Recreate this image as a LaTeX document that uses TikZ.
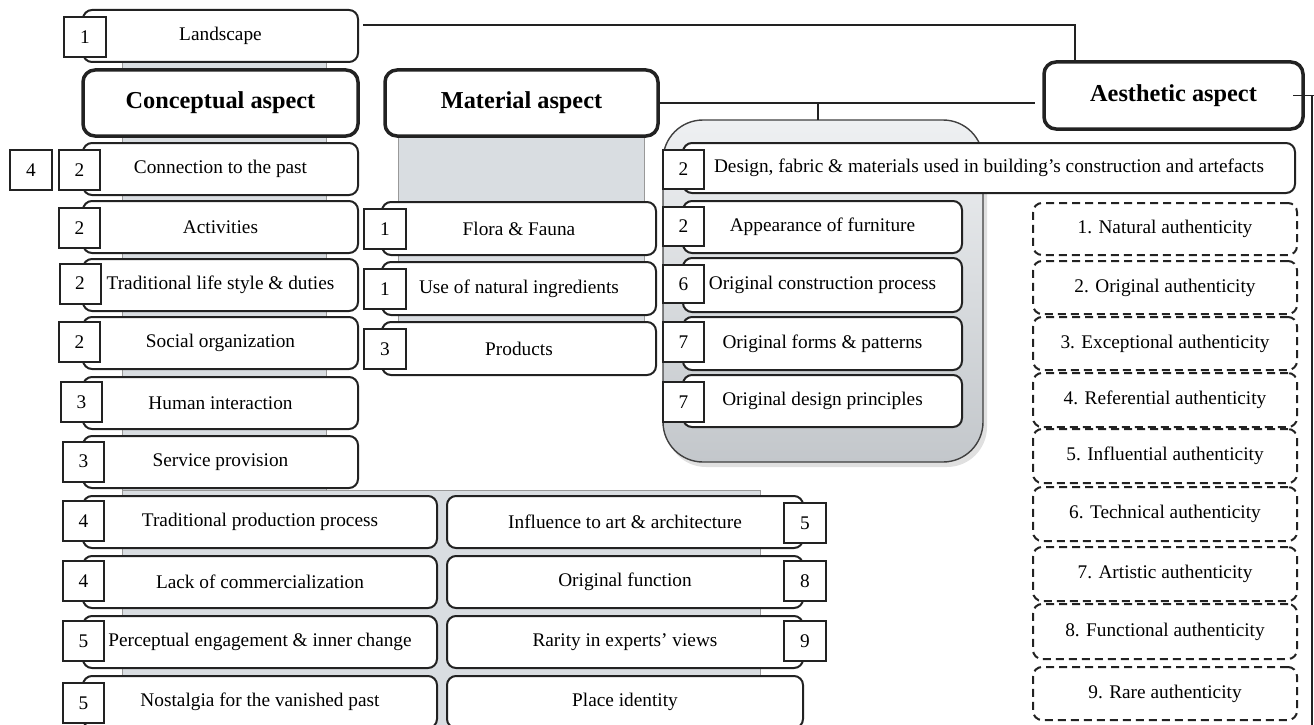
\documentclass[tikz,border=0pt]{standalone}
\usepackage{fontspec}
\setmainfont{Liberation Serif}
\usetikzlibrary{calc}
\definecolor{panel}{HTML}{D9DDE1}
\definecolor{paneltop}{HTML}{EEF0F2}
\definecolor{panelbot}{HTML}{C3C7CB}
\definecolor{ink}{HTML}{222222}
\begin{document}
\begin{tikzpicture}[x=1pt,y=-1pt,
  every node/.style={inner sep=0pt,outer sep=0pt},
  item/.style={draw=ink,line width=2pt,fill=white,rounded corners=9pt,minimum height=52pt,font=\fontsize{19.3}{22}\selectfont},
  aspect/.style={draw=ink,line width=3.5pt,fill=white,rounded corners=12pt,minimum height=66pt,font=\bfseries\fontsize{24.3}{28}\selectfont},
  numbox/.style={draw=ink,line width=2pt,fill=white,minimum width=42pt,minimum height=40pt,font=\fontsize{19.3}{22}\selectfont},
  authbox/.style={draw=ink,line width=2pt,dash pattern=on 8pt off 5pt,fill=white,rounded corners=9pt,minimum width=264pt,font=\fontsize{19.3}{22}\selectfont},
  conn/.style={draw=ink,line width=1.6pt},
  backdrop/.style={fill=panel,draw=black!40,line width=0.8pt}
]
\useasboundingbox (0,0) rectangle (1314,725);
\clip (0,0) rectangle (1314,725);

% grey backdrops behind the columns
\path[backdrop] (122,55) rectangle (326,500);
\path[backdrop] (122,490) rectangle (760,735);
\path[backdrop] (398,130) rectangle (644,370);
\fill[black!12,rounded corners=40pt] (666,125) rectangle (987,467);
\node[draw=black!75,line width=1.4pt,rounded corners=40pt,top color=paneltop,bottom color=panelbot,
      minimum width=320pt,minimum height=342pt] (frame) at (823,291) {};

% conceptual column
\node[item,minimum width=275pt] (land) at (220.5,36) {Landscape};
\node[aspect,minimum width=275pt] (concept) at (220.5,103) {Conceptual aspect};
\node[item,minimum width=275pt] (past) at (220.5,169) {Connection to the past};
\node[item,minimum width=275pt] (activ) at (220.5,227) {Activities};
\node[item,minimum width=275pt] (trad) at (220.5,285) {Traditional life style \& duties};
\node[item,minimum width=275pt] (social) at (220.5,343) {Social organization};
\node[item,minimum width=275pt] (human) at (220.5,403) {Human interaction};
\node[item,minimum width=275pt] (service) at (220.5,462) {Service provision};

% lower rows
\node[item,minimum width=354pt] (prod) at (260,522) {Traditional production process};
\node[item,minimum width=354pt] (commerce) at (260,582) {Lack of commercialization};
\node[item,minimum width=354pt] (percept) at (260,642) {Perceptual engagement \& inner change};
\node[item,minimum width=354pt] (nostalgia) at (260,702) {Nostalgia for the vanished past};
\node[item,minimum width=356pt] (influence) at (625,522) {Influence to art \& architecture};
\node[item,minimum width=356pt] (function) at (625,582) {Original function};
\node[item,minimum width=356pt] (rarity) at (625,642) {Rarity in experts’ views};
\node[item,minimum width=356pt] (place) at (625,702) {Place identity};

% material column
\node[aspect,minimum width=273pt] (mat) at (521.5,103) {Material aspect};
\node[item,minimum width=274pt,minimum height=53pt] (flora) at (519,228.5) {Flora \& Fauna};
\node[item,minimum width=274pt,minimum height=53pt] (natural) at (519,288.5) {Use of natural ingredients};
\node[item,minimum width=274pt,minimum height=53pt] (products) at (519,348.5) {Products};

% aesthetic group
\node[aspect,minimum width=259pt,minimum height=67pt] (aes) at (1173.5,95.5) {Aesthetic aspect};
\node[item,minimum width=612pt,minimum height=50pt] (design) at (989,168) {Design, fabric \& materials used in building’s construction and artefacts};
\node[item,minimum width=279pt] (appear) at (822.5,227) {Appearance of furniture};
\node[item,minimum width=279pt,minimum height=54pt] (constr) at (822.5,285) {Original construction process};
\node[item,minimum width=279pt,minimum height=53pt] (forms) at (822.5,343.5) {Original forms \& patterns};
\node[item,minimum width=279pt] (princ) at (822.5,401) {Original design principles};

% authenticity types
\node[authbox,minimum height=52pt] (a1) at (1165,229) {1. Natural authenticity};
\node[authbox,minimum height=53pt] (a2) at (1165,287.5) {2. Original authenticity};
\node[authbox,minimum height=53pt] (a3) at (1165,343.5) {3. Exceptional authenticity};
\node[authbox,minimum height=54pt] (a4) at (1165,400) {4. Referential authenticity};
\node[authbox,minimum height=54pt] (a5) at (1165,456) {5. Influential authenticity};
\node[authbox,minimum height=54pt] (a6) at (1165,514) {6. Technical authenticity};
\node[authbox,minimum height=54pt] (a7) at (1165,574) {7. Artistic authenticity};
\node[authbox,minimum height=55pt] (a8) at (1165,631.5) {8. Functional authenticity};
\node[authbox,minimum height=53pt] (a9) at (1165,693.5) {9. Rare authenticity};

% category numbers
\node[numbox] (nland) at (85,37) {1};
\node[numbox] (npastb) at (31,170) {4};
\node[numbox,minimum width=41pt] (npast) at (79.5,170) {2};
\node[numbox,minimum width=41pt] (nactiv) at (79.5,228) {2};
\node[numbox,minimum width=41pt] (ntrad) at (80,283.5) {2};
\node[numbox,minimum width=41pt] (nsocial) at (79.5,342) {2};
\node[numbox,minimum width=41pt] (nhuman) at (81.5,402) {3};
\node[numbox,minimum width=41pt] (nservice) at (83.5,461.5) {3};
\node[numbox,minimum width=41pt] (nprod) at (83.5,521) {4};
\node[numbox,minimum width=41pt] (ncommerce) at (83.5,581) {4};
\node[numbox,minimum width=41pt] (npercept) at (83.5,641) {5};
\node[numbox,minimum width=41pt] (nnostalgia) at (83.5,703) {5};
\node[numbox] (ninfluence) at (805,523) {5};
\node[numbox] (nfunction) at (805,581) {8};
\node[numbox] (nrarity) at (805,641) {9};
\node[numbox] (nflora) at (385,229) {1};
\node[numbox] (nnatural) at (385,289) {1};
\node[numbox] (nproducts) at (385,349) {3};
\node[numbox,minimum width=41pt,minimum height=39pt] (ndesign) at (683.5,169.5) {2};
\node[numbox,minimum width=41pt,minimum height=39pt] (nappear) at (683.5,226.5) {2};
\node[numbox,minimum width=41pt,minimum height=38pt] (nconstr) at (683.5,284) {6};
\node[numbox,minimum width=41pt] (nforms) at (683.5,342) {7};
\node[numbox,minimum width=41pt] (nprinc) at (683.5,402) {7};

% connectors
\coordinate (lsStart) at ($(land.north east)+(5,15)$);
\draw[conn] (lsStart) -| ($(aes.north west)+(31,0)$);
\draw[conn] (mat.east) -- ($(mat.east -| aes.west)+(-9,0)$);
\draw[conn] ($(mat.east -| frame.north)+(-5,0)$) -- ($(frame.north)+(-5,0)$);
\coordinate (edge) at (1312,725);
\draw[conn] ([xshift=-10pt]aes.east) -- ($(aes.east -| edge)+(2,0)$);
\draw[conn] (aes.east -| edge) -- (edge);
\end{tikzpicture}
\end{document}
